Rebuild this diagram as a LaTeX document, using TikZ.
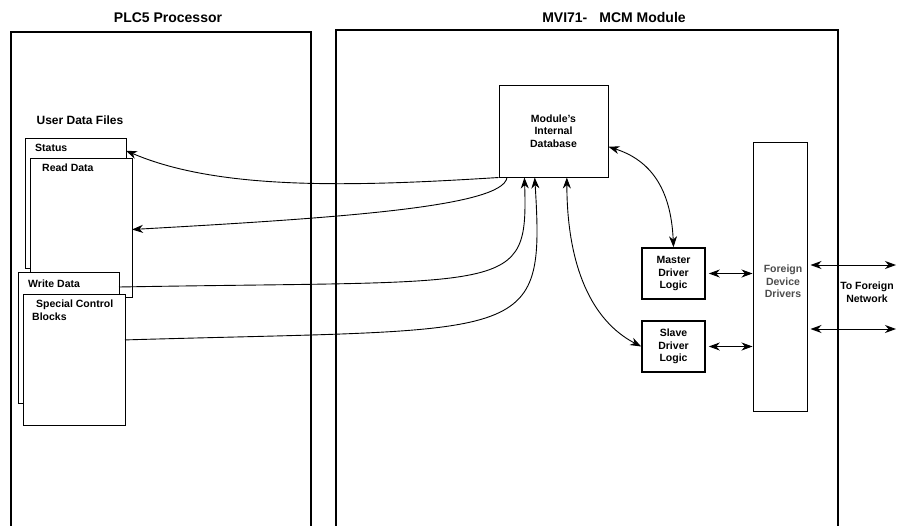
\documentclass[tikz,border=0pt]{standalone}
\usepackage{fontspec}
\setmainfont{Liberation Sans}
\usetikzlibrary{arrows.meta}

\begin{document}
\begin{tikzpicture}[x=1pt, y=-1pt,
        frame/.style={rectangle, draw, line width=2pt, outer sep=0pt, anchor=north west},
        title/.style={font=\fontsize{14}{16}\selectfont\bfseries},
        datafile/.style={rectangle, draw, fill=white, line width=1pt, outer sep=0pt, anchor=north west},
        filetext/.style={anchor=north west, inner sep=0pt, xshift=10pt, yshift=-6pt, align=left, font=\fontsize{10.5}{12.5}\selectfont\bfseries},
        dbnode/.style={rectangle, draw, line width=1pt, align=center, font=\fontsize{10.5}{12.5}\selectfont\bfseries},
        logicnode/.style={rectangle, draw, line width=1.6pt, align=center, minimum width=63pt, minimum height=51pt, font=\fontsize{10.5}{12.5}\selectfont\bfseries},
        drivernode/.style={rectangle, draw, line width=1pt},
        drivertext/.style={anchor=center, align=center, xshift=3pt, yshift=-5pt, text=black!70, font=\fontsize{10.5}{12.5}\selectfont\bfseries},
        link/.style={line width=0.9pt, -{Stealth[length=11pt,width=8pt,inset=3.5pt]}},
        duplex/.style={line width=0.9pt, {Stealth[length=11pt,width=8pt,inset=3.5pt]}-{Stealth[length=11pt,width=8pt,inset=3.5pt]}},
    ]
        \useasboundingbox (0,0) rectangle (897,525);
        \clip (0,0) rectangle (897,525);

        %Nodes
        \node[frame, minimum width=300pt, minimum height=560pt] (plc) at (11,32) {};
        \node[frame, minimum width=502pt, minimum height=560pt] (mvi) at (336,30) {};
        \node[title] (plctitle) at (168,18) {PLC5 Processor};
        \node[title] (mvititle) at (614,17) {MVI71-\hspace{12pt}MCM Module};

        \node[font=\fontsize{12}{14}\selectfont\bfseries] (userfiles) at (80,120) {User Data Files};
        \node[datafile, minimum width=101pt, minimum height=130pt, label={[filetext]north west:Status}] (status) at (25,138) {};
        \node[datafile, minimum width=102pt, minimum height=139pt, label={[filetext, xshift=2pt]north west:Read Data}] (readdata) at (30,158) {};
        \node[datafile, minimum width=101pt, minimum height=131pt, label={[filetext, yshift=-2pt]north west:Write Data}] (writedata) at (18,272) {};
        \node[datafile, minimum width=102pt, minimum height=131pt, label={[filetext, xshift=-1pt]north west:\hspace{4pt}Special Control\\Blocks}] (special) at (23,294) {};

        \node[dbnode, minimum width=109pt, minimum height=92pt] (dbase) at (553.5,131) {Module's\\Internal\\Database};
        \node[drivernode, minimum width=54pt, minimum height=269pt, label={[drivertext]center:Foreign\\Device\\Drivers}] (drivers) at (780,276.5) {};
        \node[logicnode] (master) at (673.5,273.5) {Master\\Driver\\Logic};
        \node[logicnode] (slave) at (673.5,346.5) {Slave\\Driver\\Logic};
        \node[align=center, font=\fontsize{10.5}{12.5}\selectfont\bfseries] (network) at (867,292) {To Foreign\\Network};
        \coordinate (net1) at (896,265);
        \coordinate (net2) at (896,329);

        %Lines
        \draw[link] (dbase.south west) .. controls (349,187) and (218,190) .. (status.46);
        \draw[link] (dbase.225) .. controls (503,207) and (337,218) .. ([yshift=-2pt]readdata.east);
        \draw[link] (writedata.45) .. controls (515,280) and (528,295) .. (dbase.238);
        \draw[link] (special.21) .. controls (530,328) and (545,345) .. (dbase.248);

        \draw[duplex] (dbase.-16) .. controls (650,160) and (671,188) .. (master.north);
        \draw[duplex] (dbase.286) .. controls (567,267) and (592,321) .. (slave.west);

        \draw[duplex] ([xshift=3pt]master.east) -- (master.east -| drivers.west);
        \draw[duplex] ([xshift=3pt]slave.east) -- (slave.east -| drivers.west);
        \draw[duplex] ([xshift=3pt]drivers.east |- net1) -- (net1);
        \draw[duplex] ([xshift=3pt]drivers.east |- net2) -- (net2);
    \end{tikzpicture}
\end{document}
